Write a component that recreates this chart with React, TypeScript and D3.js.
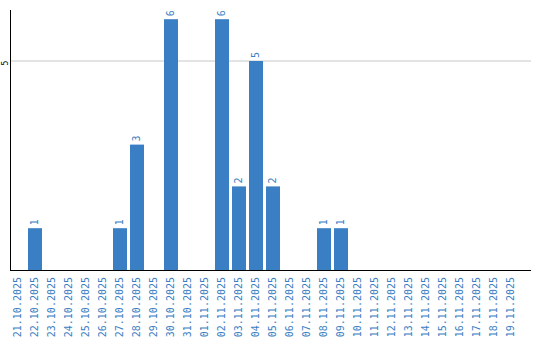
import React from "react";
import * as d3 from "d3";

const dates = [
  "21.10.2025","22.10.2025","23.10.2025","24.10.2025","25.10.2025","26.10.2025",
  "27.10.2025","28.10.2025","29.10.2025","30.10.2025","31.10.2025","01.11.2025",
  "02.11.2025","03.11.2025","04.11.2025","05.11.2025","06.11.2025","07.11.2025",
  "08.11.2025","09.11.2025","10.11.2025","11.11.2025","12.11.2025","13.11.2025",
  "14.11.2025","15.11.2025","16.11.2025","17.11.2025","18.11.2025","19.11.2025",
];
const counts = [0,1,0,0,0,0,1,3,0,6,0,0,6,2,5,2,0,0,1,1,0,0,0,0,0,0,0,0,0,0];
const yTicks = [5];

const W = 540, H = 340;
const left = 11, right = 531, base = 270, top = 10;
const blue = "#3a7ec3";
const font = "'DejaVu Sans Mono', monospace";

export default function App() {
  const x = d3.scaleBand<string>().domain(dates).range([left, left + 30 * 17 - 3]).paddingInner(3 / 17).paddingOuter(0).align(0);
  const y = d3.scaleLinear().domain([0, 5]).range([base, 61]);
  return (
    <svg width={W} height={H} style={{ position: "absolute", left: 0, top: 0 }}>
      {yTicks.map((t) => (
        <g key={t}>
          <line x1={left} x2={right} y1={y(t)} y2={y(t)} stroke="#c8c8c8" strokeWidth={1} />
          <text transform={`translate(5,${y(t) + 2}) rotate(-90)`} textAnchor="middle" dominantBaseline="middle" fontSize={8} fontFamily={font} fill="#000">{t}</text>
        </g>
      ))}
      {dates.map((d, i) => {
        const v = counts[i];
        const bx = x(d)!;
        const cx = bx + x.bandwidth() / 2;
        return (
          <g key={d}>
            {v > 0 && <rect x={bx} y={y(v)} width={x.bandwidth()} height={base - y(v)} fill={blue} />}
            {v > 0 && (
              <text transform={`translate(${cx},${y(v) - 3}) rotate(-90)`} textAnchor="start" dominantBaseline="middle" fontSize={10} fontFamily={font} fill={blue}>{v}</text>
            )}
            <text transform={`translate(${cx},${base + 7}) rotate(-90)`} textAnchor="end" dominantBaseline="middle" fontSize={10} fontFamily={font} fill={blue}>{d}</text>
          </g>
        );
      })}
      <line x1={left - 0.5} x2={left - 0.5} y1={top} y2={base + 0.5} stroke="#000" strokeWidth={1} />
      <line x1={left - 1} x2={right} y1={base + 0.5} y2={base + 0.5} stroke="#000" strokeWidth={1} />
    </svg>
  );
}
